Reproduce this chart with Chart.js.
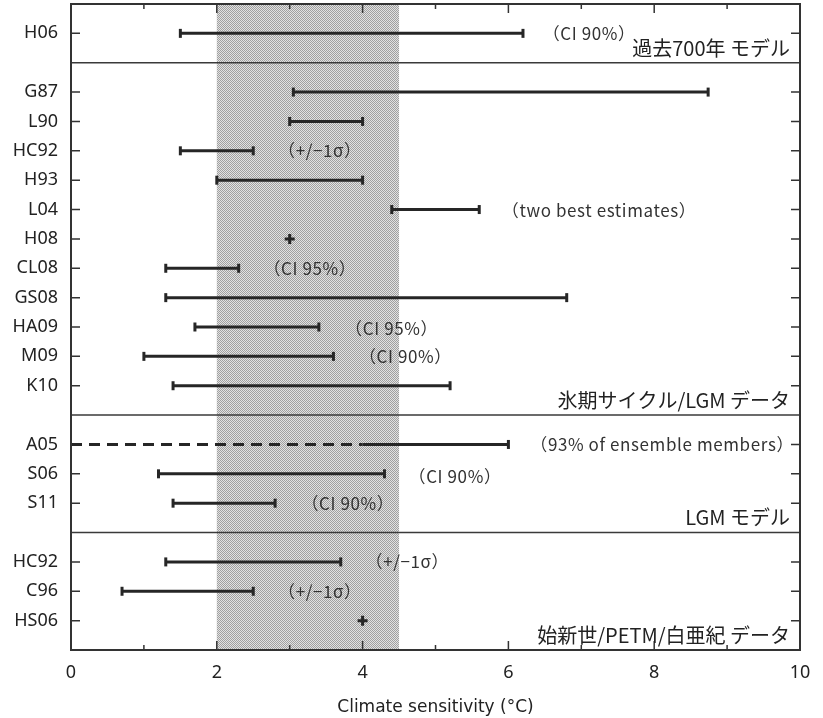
<!DOCTYPE html>
<html>
<head>
<meta charset="utf-8">
<script src="https://cdn.jsdelivr.net/npm/chart.js@4"></script>
<style>
  html, body { margin: 0; padding: 0; background: #fff; }
  #wrap { width: 823px; height: 718px; }
</style>
</head>
<body>
<div id="wrap"><canvas id="myChart" width="823" height="718"></canvas></div>
<script>
// study labels and their row on the y axis (0 = top edge)
const labels = ['H06', 'G87', 'L90', 'HC92', 'H93', 'L04', 'H08', 'CL08', 'GS08', 'HA09', 'M09', 'K10', 'A05', 'S06', 'S11', 'HC92', 'C96', 'HS06'];
const rowPos = [1, 3, 4, 5, 6, 7, 8, 9, 10, 11, 12, 13, 15, 16, 17, 19, 20, 21];
const lows  = [1.5, 3.05, 3.0, 1.5, 2.0, 4.4, null, 1.3, 1.3, 1.7, 1.0, 1.4, 4.0, 1.2, 1.4, 1.3, 0.7, null];
const highs = [6.2, 8.74, 4.0, 2.5, 4.0, 5.6, null, 2.3, 6.8, 3.4, 3.6, 5.2, 6.0, 4.3, 2.8, 3.7, 2.5, null];
const bests = [null, null, null, null, null, null, 3.0, null, null, null, null, null, null, null, null, null, null, 4.0];
// A05: dashed part below the solid range
const a05Dashed = [0, 4.0];

// IPCC likely range
const bandRange = [2, 4.5];
// separators between groups
const sepRows = [2, 14, 18];

// notes beside the bars
const noteText = ['（CI 90%）', '（+/−1σ）', '（two best estimates）', '（CI 95%）', '（CI 95%）', '（CI 90%）',
  '（93% of ensemble members）', '（CI 90%）', '（CI 90%）', '（+/−1σ）', '（+/−1σ）'];
const noteX = [6.58, 2.95, 6.02, 2.75, 3.87, 4.06, 6.41, 4.74, 3.27, 4.15, 2.95];
const noteRow = [1, 5, 7.05, 9, 11.05, 12, 15, 16.1, 17, 19, 20];

// group titles (right aligned)
const groupText = ['過去700年 モデル', '氷期サイクル/LGM データ', 'LGM モデル', '始新世/PETM/白亜紀 データ'];
const groupRow = [1.5, 13.5, 17.5, 21.5];

const ink = '#262626';

const datasets = [];
labels.forEach((lab, i) => {
  if (lows[i] !== null) {
    const dashedRow = lab === 'A05';
    datasets.push({
      label: lab,
      data: [{ x: lows[i], y: rowPos[i] }, { x: highs[i], y: rowPos[i] }],
      showLine: true,
      borderColor: ink,
      borderWidth: 3,
      pointStyle: 'line',
      rotation: 90,
      pointRadius: dashedRow ? [0, 4.5] : 4.5,
      pointBorderWidth: 3,
      pointBorderColor: ink
    });
  }
  if (bests[i] !== null) {
    datasets.push({
      label: lab,
      data: [{ x: bests[i], y: rowPos[i] }],
      pointStyle: 'cross',
      pointRadius: 5,
      pointBorderWidth: 3,
      pointBorderColor: ink
    });
  }
});
datasets.push({
  label: 'A05 dashed',
  data: [{ x: a05Dashed[0], y: 15 }, { x: a05Dashed[1], y: 15 }],
  showLine: true,
  borderColor: ink,
  borderWidth: 3,
  borderDash: [11, 7],
  pointRadius: 0
});

function makePattern(ctx) {
  const c = document.createElement('canvas');
  c.width = 2; c.height = 2;
  const p = c.getContext('2d');
  p.fillStyle = '#e2e2e2';
  p.fillRect(0, 0, 2, 2);
  p.fillStyle = '#a0a0a0';
  p.fillRect(0, 0, 1, 1);
  p.fillRect(1, 1, 1, 1);
  return ctx.createPattern(c, 'repeat');
}

const decor = {
  id: 'decor',
  beforeDatasetsDraw(chart) {
    const { ctx, chartArea: a, scales: { x, y } } = chart;
    ctx.save();
    ctx.fillStyle = makePattern(ctx);
    const x0 = x.getPixelForValue(bandRange[0]);
    const x1 = x.getPixelForValue(bandRange[1]);
    ctx.fillRect(x0, a.top, x1 - x0, a.bottom - a.top);

    ctx.strokeStyle = '#3a3a3a';
    ctx.lineWidth = 1.5;
    sepRows.forEach(r => {
      const py = y.getPixelForValue(r);
      ctx.beginPath();
      ctx.moveTo(a.left, py);
      ctx.lineTo(a.right, py);
      ctx.stroke();
    });

    // inward ticks
    ctx.strokeStyle = '#333';
    ctx.lineWidth = 1.5;
    rowPos.forEach(r => {
      const py = y.getPixelForValue(r);
      ctx.beginPath();
      ctx.moveTo(a.left, py); ctx.lineTo(a.left + 9, py);
      ctx.moveTo(a.right, py); ctx.lineTo(a.right - 9, py);
      ctx.stroke();
    });
    for (let v = 1; v < 10; v++) {
      const px = x.getPixelForValue(v);
      const len = v % 2 ? 5 : 9;
      ctx.beginPath();
      ctx.moveTo(px, a.bottom); ctx.lineTo(px, a.bottom - len);
      ctx.moveTo(px, a.top); ctx.lineTo(px, a.top + len);
      ctx.stroke();
    }
    ctx.restore();
  },
  afterDatasetsDraw(chart) {
    const { ctx, chartArea: a, scales: { x, y } } = chart;
    ctx.save();
    ctx.fillStyle = '#333';
    ctx.textBaseline = 'middle';
    ctx.textAlign = 'left';
    ctx.font = '17px "Noto Sans CJK JP"';
    ctx.letterSpacing = '0.6px';
    // full-width paren has blank space on its left
    noteText.forEach((t, i) => {
      ctx.fillText(t, x.getPixelForValue(noteX[i]) - 8, y.getPixelForValue(noteRow[i]));
    });
    ctx.letterSpacing = '0px';
    ctx.fillStyle = '#222';
    ctx.textAlign = 'right';
    ctx.font = '20px "Noto Sans CJK JP"';
    groupText.forEach((t, i) => {
      ctx.fillText(t, a.right - 10, y.getPixelForValue(groupRow[i]));
    });

    ctx.strokeStyle = '#333';
    ctx.lineWidth = 2;
    ctx.strokeRect(a.left, a.top, a.right - a.left, a.bottom - a.top);
    ctx.restore();
  }
};

new Chart(document.getElementById('myChart'), {
  type: 'scatter',
  data: { datasets },
  options: {
    responsive: false,
    animation: false,
    layout: { autoPadding: false, padding: { top: 4, right: 23, left: 0, bottom: 0 } },
    plugins: { legend: { display: false }, tooltip: { enabled: false } },
    scales: {
      x: {
        type: 'linear',
        min: 0,
        max: 10,
        grid: { display: false, drawTicks: false },
        border: { display: false },
        ticks: {
          stepSize: 1,
          padding: 12,
          color: '#222',
          font: { family: 'Noto Sans', size: 18 },
          callback: v => (v % 2 ? '' : v)
        },
        title: {
          display: true,
          text: 'Climate sensitivity (°C)',
          color: '#222',
          font: { family: 'DejaVu Sans', size: 17 },
          padding: { top: 6, bottom: 0 }
        },
        afterFit: s => { s.height = 68; s.paddingLeft = 0; s.paddingRight = 0; }
      },
      y: {
        type: 'linear',
        min: 0,
        max: 22,
        reverse: true,
        grid: { display: false, drawTicks: false },
        border: { display: false },
        afterBuildTicks: s => { s.ticks = rowPos.map(v => ({ value: v })); },
        ticks: {
          padding: 13,
          color: '#222',
          font: { family: 'Noto Sans', size: 18 },
          callback: v => labels[rowPos.indexOf(v)]
        },
        afterFit: s => { s.width = 71; s.paddingTop = 0; s.paddingBottom = 0; }
      }
    }
  },
  plugins: [decor]
});
</script>
</body>
</html>
